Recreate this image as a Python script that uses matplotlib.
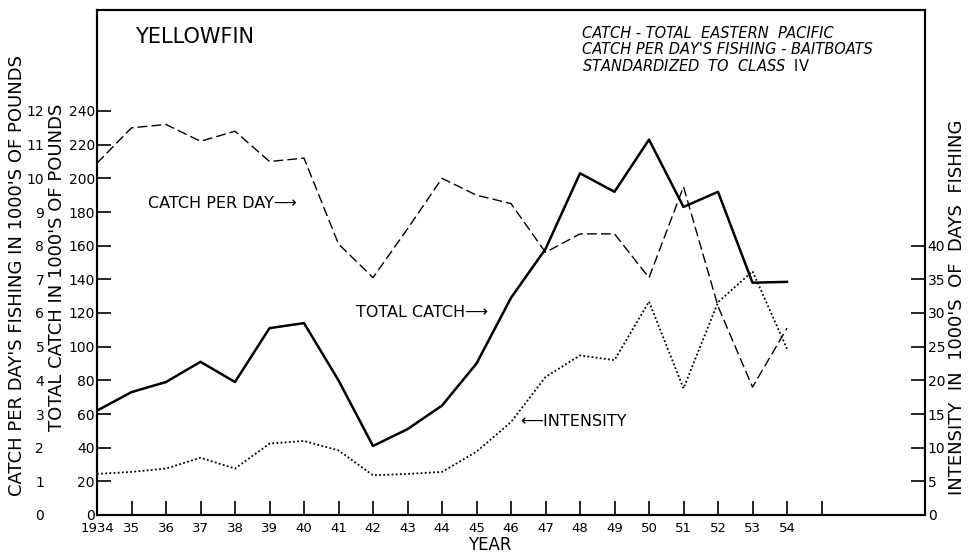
import numpy as np
import matplotlib
matplotlib.use("Agg")
import matplotlib.pyplot as plt

# yellowfin tuna, eastern Pacific, 1934-1954
years = list(range(1934, 1955))
total_catch = [62, 73, 79, 91, 79, 111, 114, 80, 41, 51, 65, 90, 129, 158,
               203, 192, 223, 183, 192, 138, 138.5]            # 1000's of lbs (x1000)
catch_per_day = [10.45, 11.5, 11.6, 11.1, 11.4, 10.5, 10.6, 8.05, 7.05, 8.5,
                 10.0, 9.5, 9.25, 7.8, 8.35, 8.35, 7.05, 9.75, 6.2, 3.8, 5.55]  # 1000's of lbs
intensity = [6.1, 6.4, 6.9, 8.5, 6.9, 10.6, 11.0, 9.6, 5.9, 6.1, 6.4, 9.4,
             13.8, 20.5, 23.7, 23.0, 31.7, 18.8, 31.6, 36.2, 24.7]  # 1000's of days

year_ticks = list(range(1934, 1956))
year_labels = ["1934"] + [str(y)[2:] for y in range(1935, 1955)] + [""]
catch_ticks = list(range(0, 241, 20))
cpd_ticks = list(range(0, 13))
intensity_ticks = list(range(0, 41, 5))

CPD_SCALE = 20  # 1 unit of catch/day = 20 units of total catch on the shared axis

plt.rcParams["font.family"] = ["DejaVu Sans"]

fig = plt.figure(figsize=(9.72, 5.54), dpi=100)
ax = fig.add_axes([97 / 972, 1 - 515 / 554, 828 / 972, 505 / 554])

ax.plot(years, total_catch, color="black", lw=1.8)
ax.plot(years, np.array(catch_per_day) * CPD_SCALE, color="black", lw=1.0,
        linestyle=(0, (7, 3)))

ax.set_xlim(1934, 1958)
ax.set_ylim(0, 300)
ax.set_xticks(year_ticks)
ax.set_xticklabels(year_labels, fontsize=9.5)
ax.set_yticks(catch_ticks)
ax.set_yticklabels([str(v) for v in catch_ticks], fontsize=10)
ax.tick_params(axis="both", direction="in", length=10, width=1.2)
ax.tick_params(axis="x", pad=5)
ax.tick_params(axis="y", pad=1.5)
for s in ax.spines.values():
    s.set_linewidth(1.5)

# intensity on its own scale at the right
ax2 = ax.twinx()
ax2.plot(years, intensity, color="black", lw=1.3, linestyle=(0, (1, 1.3)))
ax2.set_ylim(0, 75)
ax2.set_yticks(intensity_ticks)
ax2.set_yticklabels([str(v) for v in intensity_ticks], fontsize=10)
ax2.tick_params(axis="y", direction="in", length=10, width=1.2, pad=2)
for s in ax2.spines.values():
    s.set_linewidth(1.5)

# outer left scale: catch per day's fishing
sec = ax.secondary_yaxis(-0.0604, functions=(lambda v: v / CPD_SCALE,
                                             lambda v: v * CPD_SCALE))
sec.set_yticks(cpd_ticks)
sec.set_yticklabels([str(v) for v in cpd_ticks], fontsize=10)
sec.tick_params(length=0, pad=2)
for s in sec.spines.values():
    s.set_visible(False)

# axis titles
fig.text(57 / 972, 1 - 267 / 554, "TOTAL CATCH IN 1000'S OF POUNDS",
         rotation=90, ha="center", va="center", fontsize=13)
fig.text(17 / 972, 1 - 276 / 554, "CATCH PER DAY'S FISHING IN 1000'S OF POUNDS",
         rotation=90, ha="center", va="center", fontsize=13)
fig.text(957 / 972, 1 - 307 / 554, "INTENSITY  IN  1000'S  OF  DAYS  FISHING",
         rotation=90, ha="center", va="center", fontsize=13)
fig.text(490 / 972, 1 - 545 / 554, "YEAR", ha="center", va="center", fontsize=12)

# headings
fig.text(135 / 972, 1 - 37 / 554, "YELLOWFIN", ha="left", va="center", fontsize=15)
fig.text(582 / 972, 1 - 34 / 554, "CATCH - TOTAL  EASTERN  PACIFIC",
         ha="left", va="center", fontsize=10.5, style="italic")
fig.text(582 / 972, 1 - 50 / 554, "CATCH PER DAY'S FISHING - BAITBOATS",
         ha="left", va="center", fontsize=10.5, style="italic")
fig.text(582 / 972, 1 - 66 / 554, r"STANDARDIZED  TO  CLASS  $\mathrm{IV}$",
         ha="left", va="center", fontsize=10.5, style="italic")

# curve labels
ax.text(1935.48, 185, "CATCH PER DAY\u27f6", ha="left", va="center", fontsize=11.5)
ax.text(1941.5, 120.5, "TOTAL CATCH\u27f6", ha="left", va="center", fontsize=11.5)
ax.text(1946.26, 55.8, "\u27f5INTENSITY", ha="left", va="center", fontsize=11.5)

fig.savefig("out.png", dpi=100)
